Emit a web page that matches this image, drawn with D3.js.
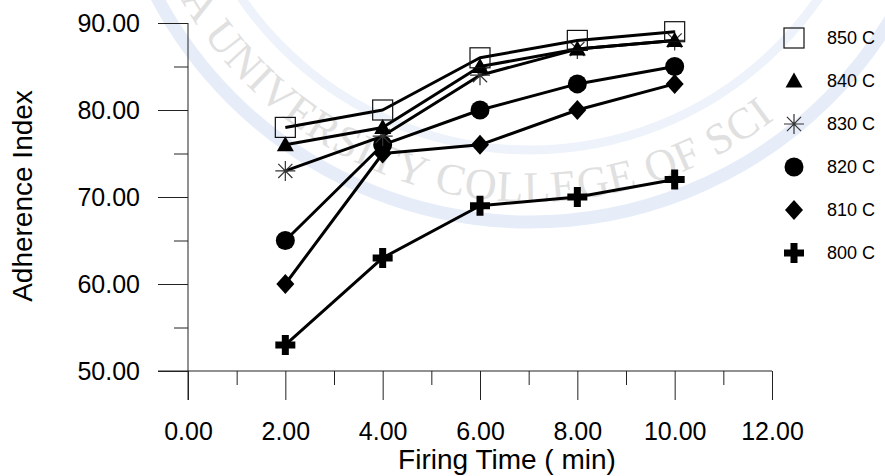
<!DOCTYPE html>
<html lang="en">
<head>
<meta charset="UTF-8">
<title>Adherence Index vs Firing Time</title>
<script src="https://cdn.jsdelivr.net/npm/d3@7"></script>
<style>
  body { margin: 0; background: #fff; }
  svg { display: block; font-family: "Liberation Sans", Arial, sans-serif; }
</style>
</head>
<body>
<svg id="chart" width="885" height="476"></svg>
<script>
// data
const times = [2, 4, 6, 8, 10];
const s850 = [78, 80, 86, 88, 89];
const s840 = [76, 78, 85, 87, 88];
const s830 = [73, 77, 84, 87, 88];
const s820 = [65, 76, 80, 83, 85];
const s810 = [60, 75, 76, 80, 83];
const s800 = [53, 63, 69, 70, 72];
const seriesNames = ["850 C", "840 C", "830 C", "820 C", "810 C", "800 C"];
const xTicks = [0, 2, 4, 6, 8, 10, 12];
const yTicks = [50, 60, 70, 80, 90];

const allSeries = [s850, s840, s830, s820, s810, s800];

const svg = d3.select("#chart");
const x = d3.scaleLinear().domain([0, 12]).range([188, 772]);
const y = d3.scaleLinear().domain([50, 90]).range([371, 23]);

// faint seal watermark in the background
const wm = svg.append("g");
const cx = 530, cy = -200;
wm.append("circle").attr("cx", cx).attr("cy", cy).attr("r", 422)
  .attr("fill", "none").attr("stroke", "#e6edf9").attr("stroke-width", 13);
wm.append("circle").attr("cx", cx).attr("cy", cy).attr("r", 350)
  .attr("fill", "none").attr("stroke", "#edf2fb").attr("stroke-width", 9);
const rt = 402;
const a0 = Math.PI * 0.98, a1 = Math.PI * 0.29;
wm.append("path").attr("id", "sealArc").attr("fill", "none")
  .attr("d", `M${cx + rt * Math.cos(a0)},${cy + rt * Math.sin(a0)} A${rt},${rt} 0 0 0 ${cx + rt * Math.cos(a1)},${cy + rt * Math.sin(a1)}`);
wm.append("text")
  .attr("font-family", "'Liberation Serif', 'DejaVu Serif', serif")
  .attr("font-size", 44).attr("fill", "#e0e0e0").attr("letter-spacing", 1)
  .append("textPath").attr("href", "#sealArc").attr("startOffset", 0)
  .text("KERBALA UNIVERSITY COLLEGE OF SCIENCE");

// axes
const axisG = svg.append("g").attr("stroke", "#222").attr("stroke-width", 1);
axisG.append("line").attr("x1", x(0)).attr("x2", x(0)).attr("y1", y(90)).attr("y2", y(50) + 29);
axisG.append("line").attr("x1", x(0) - 30).attr("x2", x(12)).attr("y1", y(50)).attr("y2", y(50));

const yMajor = d3.axisLeft(y).tickValues(yTicks).tickSize(30).tickPadding(18).tickFormat(d3.format(".2f"));
const yMinor = d3.axisLeft(y).tickValues(yTicks.slice(0, -1).map(v => v + 5)).tickSize(14).tickFormat("");
const xMajor = d3.axisBottom(x).tickValues(xTicks).tickSize(29).tickPadding(22).tickFormat(d3.format(".2f"));
const xMinor = d3.axisBottom(x).tickValues(xTicks.slice(0, -1).map(v => v + 1)).tickSize(14).tickFormat("");

function styleAxis(g) {
  g.select(".domain").remove();
  g.selectAll(".tick line").attr("stroke", "#222");
  g.selectAll(".tick text").attr("fill", "#000").attr("font-size", 25)
    .attr("font-family", "'Liberation Sans', Arial, sans-serif");
}
svg.append("g").attr("transform", `translate(${x(0)},0)`).call(yMajor).call(styleAxis);
svg.append("g").attr("transform", `translate(${x(0)},0)`).call(yMinor).call(styleAxis);
svg.append("g").attr("transform", `translate(0,${y(50)})`).call(xMajor).call(styleAxis);
svg.append("g").attr("transform", `translate(0,${y(50)})`).call(xMinor).call(styleAxis);

svg.append("text").attr("transform", "translate(32,196) rotate(-90)")
  .attr("text-anchor", "middle").attr("font-size", 28).text("Adherence Index");
svg.append("text").attr("x", 507).attr("y", 469)
  .attr("text-anchor", "middle").attr("font-size", 28).text("Firing Time ( min)");

// marker shapes
function marker(g, kind) {
  if (kind === 0) {
    g.append("rect").attr("x", -10).attr("y", -10).attr("width", 20).attr("height", 20)
      .attr("fill", "none").attr("stroke", "#111").attr("stroke-width", 1.2);
  } else if (kind === 1) {
    g.append("path").attr("d", "M0,-8.5L8.5,6.5L-8.5,6.5Z").attr("fill", "#000");
  } else if (kind === 2) {
    const p = d3.path();
    for (let k = 0; k < 4; k++) {
      const a = k * Math.PI / 4;
      p.moveTo(-10 * Math.cos(a), -10 * Math.sin(a));
      p.lineTo(10 * Math.cos(a), 10 * Math.sin(a));
    }
    g.append("path").attr("d", p.toString()).attr("stroke", "#333").attr("stroke-width", 1.2).attr("fill", "none");
  } else if (kind === 3) {
    g.append("circle").attr("r", 9.5).attr("fill", "#000");
  } else if (kind === 4) {
    g.append("path").attr("d", "M0,-10L9,0L0,10L-9,0Z").attr("fill", "#000");
  } else {
    g.append("path").attr("d", "M-3.5,-10H3.5V-3.5H10V3.5H3.5V10H-3.5V3.5H-10V-3.5H-3.5Z").attr("fill", "#000");
  }
}

const line = d3.line().x((d, i) => x(times[i])).y(d => y(d));

// draw bottom series first so 850 ends on top
for (let s = allSeries.length - 1; s >= 0; s--) {
  const vals = allSeries[s];
  svg.append("path").datum(vals).attr("d", line)
    .attr("fill", "none").attr("stroke", "#000").attr("stroke-width", 3).attr("stroke-linejoin", "round");
  vals.forEach((v, i) => {
    const g = svg.append("g").attr("transform", `translate(${x(times[i])},${y(v)})`);
    marker(g, s);
  });
}

// legend
const leg = svg.append("g");
seriesNames.forEach((name, i) => {
  const ly = 38 + i * 43;
  const g = leg.append("g").attr("transform", `translate(794,${ly})`);
  marker(g, i);
  leg.append("text").attr("x", 827).attr("y", ly).attr("dy", "0.35em")
    .attr("font-size", 18).text(name);
});
</script>
</body>
</html>
